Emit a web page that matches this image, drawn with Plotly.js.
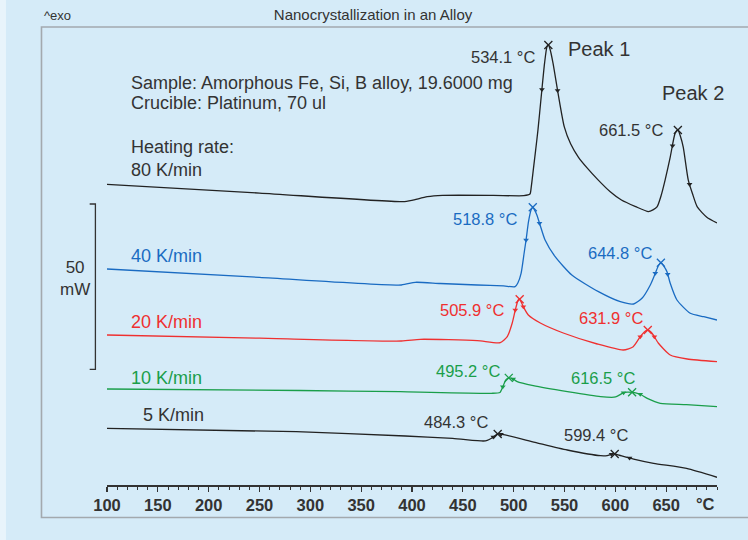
<!DOCTYPE html>
<html>
<head>
<meta charset="utf-8">
<script src="https://cdn.plot.ly/plotly-3.0.1.min.js"></script>
<style>
  html, body { margin: 0; padding: 0; background: #d5ebf8; }
  #chart { width: 748px; height: 540px; }
</style>
</head>
<body>
<div id="chart"></div>
<script>
// ---------------- DATA ----------------
// Temperature in °C, heat flow in mW (curves stacked with their display offsets)
const tickVals = [100, 150, 200, 250, 300, 350, 400, 450, 500, 550, 600, 650];
const tickText = ['100', '150', '200', '250', '300', '350', '400', '450', '500', '550', '600', '650'];
const unitLabel = '°C';

const rateLabels = ['80 K/min', '40 K/min', '20 K/min', '10 K/min', '5 K/min'];

const temp80 = [100, 250, 391, 400, 415, 430, 480, 510, 516, 517.3, 519.3, 521.5, 523.9, 527.1, 530.4, 532.8, 534.1, 535.8, 538.7, 543.6, 549.8, 556, 563.6, 572, 583, 595, 606, 620, 632.5, 637, 641, 645, 649, 654, 658.9, 661.5, 664, 666.8, 671.7, 676, 680.6, 690, 700];
const heat80 = [90.96, 88.3, 85.7, 86.1, 87.2, 87.6, 87.6, 87.5, 88.0, 90.2, 95.3, 101, 107.4, 117.5, 127.6, 132.6, 133.1, 131.8, 127.6, 118.6, 108.3, 103.2, 99.2, 96.0, 92.3, 88.7, 86.2, 84.2, 82.7, 83.2, 84.1, 87.5, 92.3, 99.2, 106.5, 107.4, 105.5, 102.2, 92.3, 88.0, 84.1, 81.0, 79.25];

const temp40 = [100, 250, 389.5, 403.2, 427.8, 464.2, 490, 501.4, 504.1, 507.3, 510.3, 512.2, 514.6, 517.1, 518.8, 520.5, 522.8, 526.0, 530.9, 540.8, 557.2, 583.4, 604.9, 618.0, 626.2, 634.4, 639.3, 642.5, 644.8, 647.5, 650.8, 654.0, 660.6, 673.7, 687, 700];
const heat40 = [65.34, 62.8, 60.50, 61.31, 60.95, 60.50, 60.2, 59.98, 61.1, 64.04, 70.18, 74.11, 79.64, 83.18, 84.0, 83.2, 81.67, 78.64, 74.11, 69.06, 63.52, 58.47, 55.44, 54.75, 56.47, 60.50, 64.04, 66.4, 67.24, 66.3, 64.52, 61.01, 55.96, 51.94, 50.9, 49.9];

const temp20 = [100, 250, 389.5, 408.2, 464.2, 486.8, 493.7, 498.6, 501.6, 504.5, 505.9, 509.5, 514.4, 526.2, 548.8, 582.2, 607.8, 617.6, 624.5, 628.5, 631.9, 634.5, 637.3, 642.2, 654.0, 670.7, 700];
const heat20 = [45.37, 44.4, 43.56, 44.07, 43.65, 43.04, 44.86, 49.0, 52.93, 55.96, 56.17, 53.93, 51.42, 49.0, 45.98, 42.65, 40.83, 41.83, 44.86, 46.3, 46.88, 46.4, 45.37, 42.95, 39.32, 38.11, 37.30];

const temp10 = [100, 290, 388.5, 478, 486.5, 489.3, 492.3, 495.2, 499, 503.5, 519.3, 552.9, 585.5, 600.3, 608.1, 612, 616.5, 620, 624.5, 631.4, 644.2, 670, 700];
const heat10 = [29.04, 28.58, 28.22, 27.74, 28.0, 29.7, 31.8, 32.4, 32.2, 31.25, 30.04, 28.22, 26.71, 26.62, 27.92, 28.1, 28.04, 27.9, 27.44, 26.22, 24.71, 24.3, 23.68];

const temp5 = [100, 286.2, 393.4, 440, 470.1, 474, 479, 484.3, 489, 521, 552.7, 585.5, 592, 596.3, 599.4, 604, 618, 637.6, 670, 700];
const heat5 = [17.15, 16.12, 14.82, 14.1, 13.31, 13.5, 14.3, 15.43, 15.3, 12.92, 10.59, 8.86, 8.9, 9.29, 9.38, 9.0, 7.86, 6.56, 5.0, 2.33];

// peak temperatures (°C) and integration-limit temperatures
const peaks80 = [534.1, 661.5];
const peaks40 = [518.8, 644.8];
const peaks20 = [505.9, 631.9];
const peaks10 = [495.2, 616.5];
const peaks5  = [484.3, 599.4];

const limits80 = [527.8, 543.2, 656.3, 673];
const limits40 = [512.2, 525.4, 639.3, 651.5];
const limits20 = [501.6, 509.5, 624.5, 638.4];
const limits10 = [489.3, 499.5, 608.1, 624.5];
const limits5  = [480, 487.5, 596.3, 614];

const scaleBarMW = 50;     // scale bar value in mW
const scaleBarBase = 35;   // lower end of the scale bar (mW)

const infoLines = ['Sample: Amorphous Fe, Si, B alloy, 19.6000 mg', 'Crucible: Platinum, 70 ul', 'Heating rate:'];
const peakNames = ['Peak 1', 'Peak 2'];

// ---------------- STYLE / LAYOUT ----------------
const FONT = 'Liberation Sans, Arial, Helvetica, sans-serif';
const TXT = '#333333';
const LX = 121.5;
const series = [
  {T: temp80, Q: heat80, peaks: peaks80, limits: limits80, label: rateLabels[0], color: '#222222',
   labelPos: [LX, 95.3], peakOff: [[-11, 11.7], [-12.7, 0]]},
  {T: temp40, Q: heat40, peaks: peaks40, limits: limits40, label: rateLabels[1], color: '#1a6bc2',
   labelPos: [LX, 69.3], peakOff: [[-14, 12], [-6.7, -9.4]]},
  {T: temp20, Q: heat20, peaks: peaks20, limits: limits20, label: rateLabels[2], color: '#ef3030',
   labelPos: [LX, 49.2], peakOff: [[-14, 10.7], [-2.5, -11.7]]},
  {T: temp10, Q: heat10, peaks: peaks10, limits: limits10, label: rateLabels[3], color: '#1a9e4a',
   labelPos: [LX, 32.4], peakOff: [[-6.7, -6.6], [5, -14.6]]},
  {T: temp5, Q: heat5, peaks: peaks5, limits: limits5, label: rateLabels[4], color: '#222222',
   labelPos: [133.2, 21.2], peakOff: [[-7.7, -12.3], [15, -19]]}
];

function interp(t, xs, ys) {
  for (let i = 0; i < xs.length - 1; i++) {
    if (t >= xs[i] && t <= xs[i + 1]) {
      const f = (t - xs[i]) / (xs[i + 1] - xs[i]);
      return ys[i] + f * (ys[i + 1] - ys[i]);
    }
  }
  return ys[ys.length - 1];
}

const traces = [];
const annotations = [];

series.forEach(s => {
  traces.push({
    x: s.T, y: s.Q, type: 'scatter', mode: 'lines',
    line: {color: s.color, width: 1.3, shape: 'spline', smoothing: 0.6},
    hoverinfo: 'skip', showlegend: false
  });
  traces.push({
    x: s.peaks, y: s.peaks.map(p => interp(p, s.T, s.Q)), type: 'scatter', mode: 'markers',
    marker: {symbol: 'x-thin', size: 8, color: s.color, line: {color: s.color, width: 1.3}},
    hoverinfo: 'skip', showlegend: false
  });
  traces.push({
    x: s.limits, y: s.limits.map(p => interp(p, s.T, s.Q)), type: 'scatter', mode: 'markers',
    marker: {symbol: 'triangle-down', size: 5, color: s.color},
    hoverinfo: 'skip', showlegend: false
  });
  annotations.push({
    x: s.labelPos[0], y: s.labelPos[1], xref: 'x', yref: 'y', text: s.label,
    showarrow: false, xanchor: 'left', yanchor: 'middle',
    font: {family: FONT, size: 18, color: s.color === '#222222' ? TXT : s.color}
  });
  s.peaks.forEach((p, i) => {
    annotations.push({
      x: p, y: interp(p, s.T, s.Q), xref: 'x', yref: 'y',
      text: p.toFixed(1) + ' °C', showarrow: false, xanchor: 'right', yanchor: 'middle',
      xshift: s.peakOff[i][0], yshift: -s.peakOff[i][1],
      font: {family: FONT, size: 16.5, color: s.color === '#222222' ? TXT : s.color}
    });
  });
});

// info text
const infoY = [121.5, 115.5, 102.3];
infoLines.forEach((t, i) => annotations.push({
  x: LX, y: infoY[i], xref: 'x', yref: 'y', text: t, showarrow: false,
  xanchor: 'left', yanchor: 'middle', font: {family: FONT, size: 18, color: TXT}
}));
// peak names
const peakNamePos = [[551.8, 131.9], [644.3, 118.5]];
peakNames.forEach((t, i) => annotations.push({
  x: peakNamePos[i][0], y: peakNamePos[i][1], xref: 'x', yref: 'y', text: t, showarrow: false,
  xanchor: 'left', yanchor: 'middle', font: {family: FONT, size: 20, color: TXT}
}));
// scale bar label
annotations.push({
  x: -0.0525, y: scaleBarBase + scaleBarMW / 2, xref: 'paper', yref: 'y',
  text: scaleBarMW + '<br>mW', showarrow: false, xanchor: 'center', yanchor: 'middle', yshift: 8,
  font: {family: FONT, size: 17, color: TXT}
});
// ^exo
annotations.push({
  x: -0.1066, y: 1.0284, xref: 'paper', yref: 'paper', text: '^exo', showarrow: false,
  xanchor: 'left', yanchor: 'middle', font: {family: FONT, size: 13, color: TXT}
});
// unit label at the end of the axis
annotations.push({
  x: 700, y: 0, xref: 'x', yref: 'paper', text: unitLabel, showarrow: false,
  xanchor: 'right', yanchor: 'top', yshift: -8,
  font: {family: FONT, size: 16.5, color: TXT, weight: 'bold'}
});

const barTop = scaleBarBase + scaleBarMW;
const shapes = [
  // lighter strip at the far left
  {type: 'rect', xref: 'paper', yref: 'paper', x0: -0.1754, x1: -0.1656, y0: -0.13, y1: 1.07,
   fillcolor: '#e8f4fb', line: {width: 0}, layer: 'below'},
  // frame
  {type: 'rect', xref: 'paper', yref: 'paper', x0: -0.1074, x1: 1.08, y0: -0.0711, y1: 1.0022,
   fillcolor: 'rgba(0,0,0,0)', line: {color: '#a3a9ae', width: 1.6}, layer: 'below'},
  // 50 mW scale bar
  {type: 'path', xref: 'paper', yref: 'y',
   path: `M -0.0284,${barTop} L -0.0190,${barTop} L -0.0190,${scaleBarBase} L -0.0284,${scaleBarBase}`,
   line: {color: '#333333', width: 1.3}}
];

const layout = {
  width: 748, height: 540,
  margin: {l: 107, r: 31, t: 28, b: 55, pad: 0},
  paper_bgcolor: '#d5ebf8', plot_bgcolor: 'rgba(0,0,0,0)',
  title: {text: 'Nanocrystallization in an Alloy', x: 0.4987, xanchor: 'center', xref: 'container',
          y: 1 - 15 / 540, yanchor: 'middle', yref: 'container',
          font: {family: FONT, size: 15, color: TXT}},
  xaxis: {
    range: [100, 700], tickmode: 'array', tickvals: tickVals, ticktext: tickText,
    ticks: 'outside', ticklen: 5, tickwidth: 1.2, tickcolor: '#333333',
    showline: true, linecolor: '#333333', linewidth: 1.5,
    showgrid: false, zeroline: false, fixedrange: true, ticklabelstandoff: 0,
    tickfont: {family: FONT, size: 16.5, color: TXT, weight: 'bold'},
    minor: {tickmode: 'linear', tick0: 100, dtick: 10, ticks: 'outside', ticklen: 3,
            tickwidth: 1, tickcolor: '#333333', showgrid: false}
  },
  yaxis: {range: [0, 138.23], visible: false, fixedrange: true},
  showlegend: false,
  annotations: annotations,
  shapes: shapes
};

Plotly.newPlot('chart', traces, layout, {staticPlot: true, displayModeBar: false});
</script>
</body>
</html>
